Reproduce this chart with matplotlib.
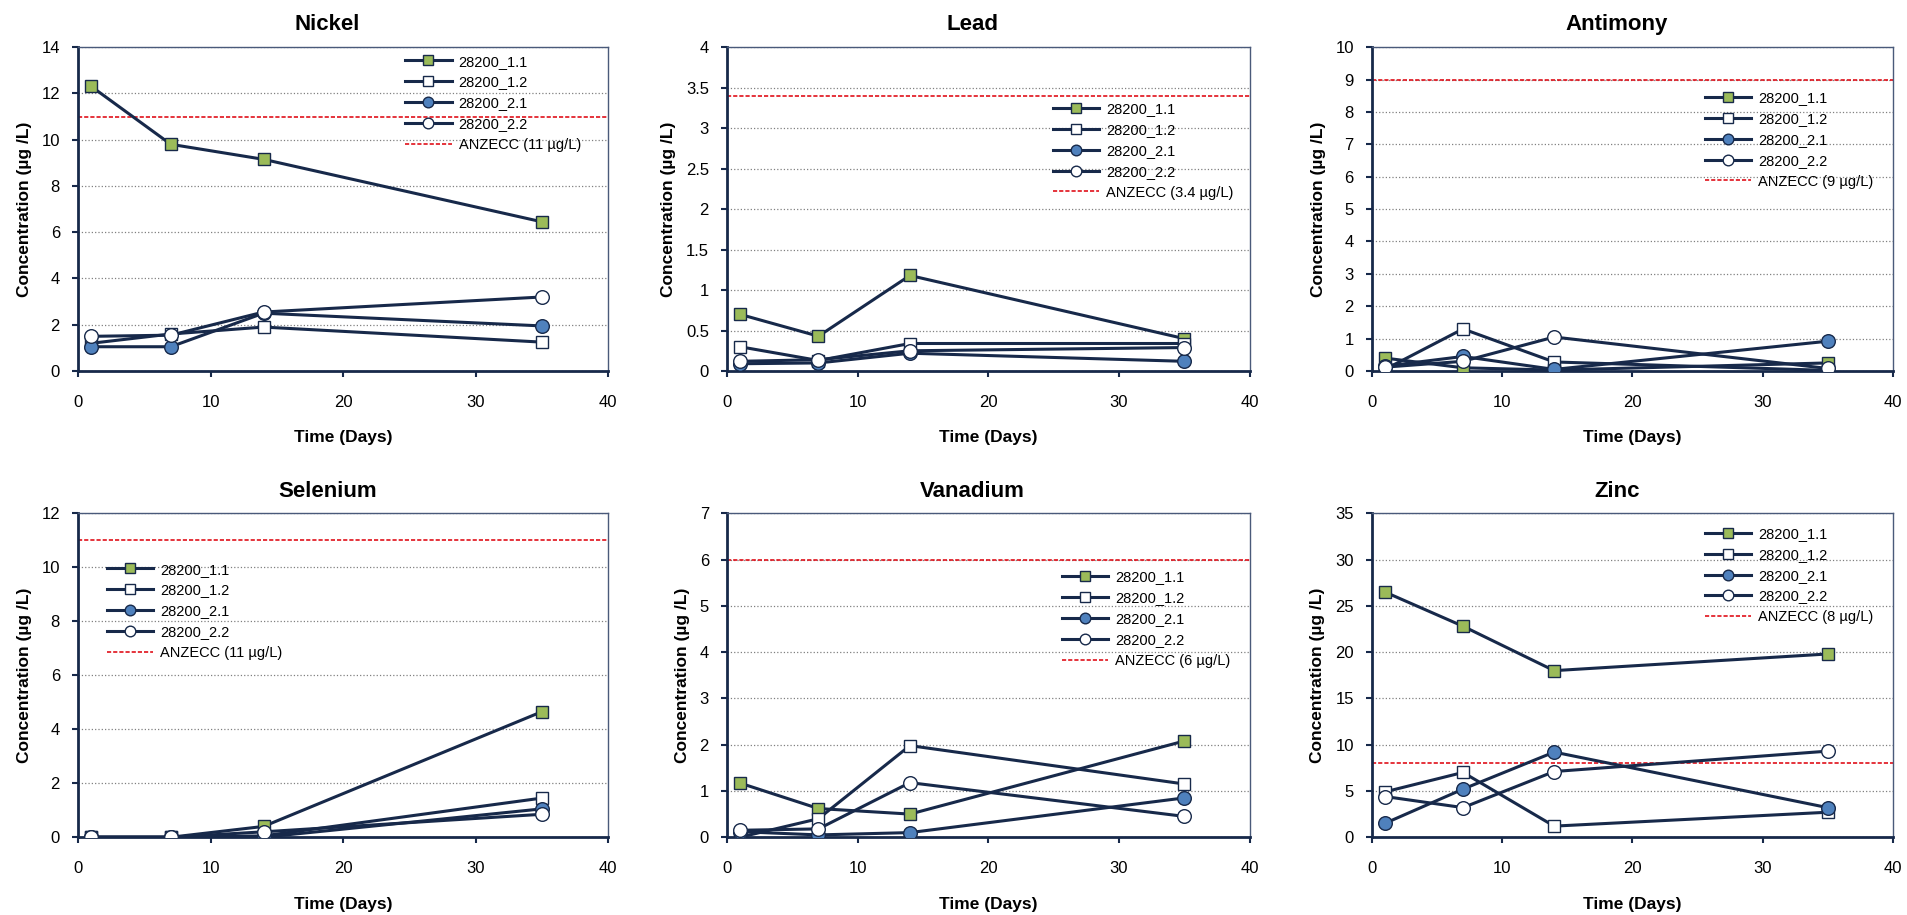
import numpy as np
import matplotlib
matplotlib.use("Agg")
import matplotlib.pyplot as plt
from matplotlib.ticker import FuncFormatter

plt.rcParams['font.family'] = ['Liberation Sans', 'DejaVu Sans']

# Sampling days
days = [1, 7, 14, 35]
series_names = ['28200_1.1', '28200_1.2', '28200_2.1', '28200_2.2']

# Concentrations (ug/L) per metal, one list per series
nickel_11 = [12.3, 9.8, 9.15, 6.45]
nickel_12 = [1.2, 1.6, 1.9, 1.25]
nickel_21 = [1.05, 1.05, 2.5, 1.95]
nickel_22 = [1.5, 1.55, 2.55, 3.2]

lead_11 = [0.7, 0.43, 1.18, 0.4]
lead_12 = [0.3, 0.13, 0.34, 0.34]
lead_21 = [0.09, 0.1, 0.22, 0.12]
lead_22 = [0.12, 0.14, 0.25, 0.29]

antimony_11 = [0.4, 0.1, 0.03, 0.25]
antimony_12 = [0.05, 1.3, 0.28, 0.02]
antimony_21 = [0.15, 0.45, 0.05, 0.92]
antimony_22 = [0.12, 0.3, 1.05, 0.08]

selenium_11 = [0.0, 0.0, 0.4, 4.65]
selenium_12 = [0.0, 0.0, 0.05, 1.45]
selenium_21 = [0.0, 0.0, 0.0, 1.05]
selenium_22 = [0.0, 0.0, 0.2, 0.85]

vanadium_11 = [1.17, 0.62, 0.5, 2.08]
vanadium_12 = [0.0, 0.4, 1.98, 1.15]
vanadium_21 = [0.12, 0.05, 0.1, 0.85]
vanadium_22 = [0.15, 0.18, 1.18, 0.45]

zinc_11 = [26.5, 22.8, 18.0, 19.8]
zinc_12 = [4.9, 7.0, 1.2, 2.7]
zinc_21 = [1.5, 5.2, 9.2, 3.2]
zinc_22 = [4.4, 3.2, 7.1, 9.3]

# ANZECC guideline values
anzecc = {'Nickel': 11, 'Lead': 3.4, 'Antimony': 9, 'Selenium': 11, 'Vanadium': 6, 'Zinc': 8}

panels = [
    ('Nickel', [nickel_11, nickel_12, nickel_21, nickel_22], 14, 2),
    ('Lead', [lead_11, lead_12, lead_21, lead_22], 4, 0.5),
    ('Antimony', [antimony_11, antimony_12, antimony_21, antimony_22], 10, 1),
    ('Selenium', [selenium_11, selenium_12, selenium_21, selenium_22], 12, 2),
    ('Vanadium', [vanadium_11, vanadium_12, vanadium_21, vanadium_22], 7, 1),
    ('Zinc', [zinc_11, zinc_12, zinc_21, zinc_22], 35, 5),
]

# axes rectangles (figure fraction) and legend anchors (axes fraction)
lefts = [0.0409, 0.381, 0.719]
widths = [0.2778, 0.274, 0.273]
bottoms = [0.5945, 0.085]
height = 0.354
legend_anchor = [(0.617, 0.977), (0.623, 0.83), (0.639, 0.864),
                 (0.054, 0.848), (0.64, 0.824), (0.639, 0.958)]

navy = '#17294a'
styles = [
    dict(marker='s', mfc='#9bbb59', ms=9.2),
    dict(marker='s', mfc='white', ms=9.2),
    dict(marker='o', mfc='#4f81bd', ms=9.8),
    dict(marker='o', mfc='white', ms=9.8),
]

fig = plt.figure(figsize=(19.08, 9.15), dpi=100)

for i, (name, data, ymax, ystep) in enumerate(panels):
    ax = fig.add_axes([lefts[i % 3], bottoms[i // 3], widths[i % 3], height])
    for vals, lab, st in zip(data, series_names, styles):
        ax.plot(days, vals, color=navy, lw=2.2, marker=st['marker'], mfc=st['mfc'],
                mec=navy, mew=1.0, ms=st['ms'], label=lab, zorder=3)
    ax.axhline(anzecc[name], color='#e0101a', lw=1.2, ls=(0, (2.5, 1.2)),
               label=f'ANZECC ({anzecc[name]} µg/L)', zorder=2)

    ax.set_xlim(0, 40)
    ax.set_ylim(0, ymax)
    ax.set_xticks(np.arange(0, 41, 10))
    ax.set_yticks(np.arange(0, ymax + ystep / 2, ystep))
    ax.yaxis.set_major_formatter(FuncFormatter(lambda v, p: f'{v:g}'))
    ax.yaxis.grid(True, color='#808080', ls=':', lw=0.9)
    ax.set_axisbelow(True)

    for s in ['left', 'bottom']:
        ax.spines[s].set_color(navy)
        ax.spines[s].set_linewidth(2.0)
    for s in ['top', 'right']:
        ax.spines[s].set_color('#4a5a7a')
        ax.spines[s].set_linewidth(1.0)
    ax.tick_params(axis='both', labelsize=12, labelcolor='black', color=navy,
                   length=4, width=1.5, direction='out')
    ax.tick_params(axis='x', pad=13)
    ax.tick_params(axis='y', pad=9)

    ax.set_title(name, fontsize=16, fontweight='bold', pad=12, x=0.47)
    ax.set_xlabel('Time (Days)', fontsize=12.5, fontweight='bold', labelpad=15)
    ax.set_ylabel('Concentration (µg /L)', fontsize=12.5, fontweight='bold', labelpad=7)

    ax.legend(loc='upper left', bbox_to_anchor=legend_anchor[i], frameon=False, fontsize=10.5,
              handlelength=3.2, handletextpad=0.48, labelspacing=0.47, markerscale=0.78,
              borderpad=0, borderaxespad=0)

fig.savefig('out.png', dpi=100)
